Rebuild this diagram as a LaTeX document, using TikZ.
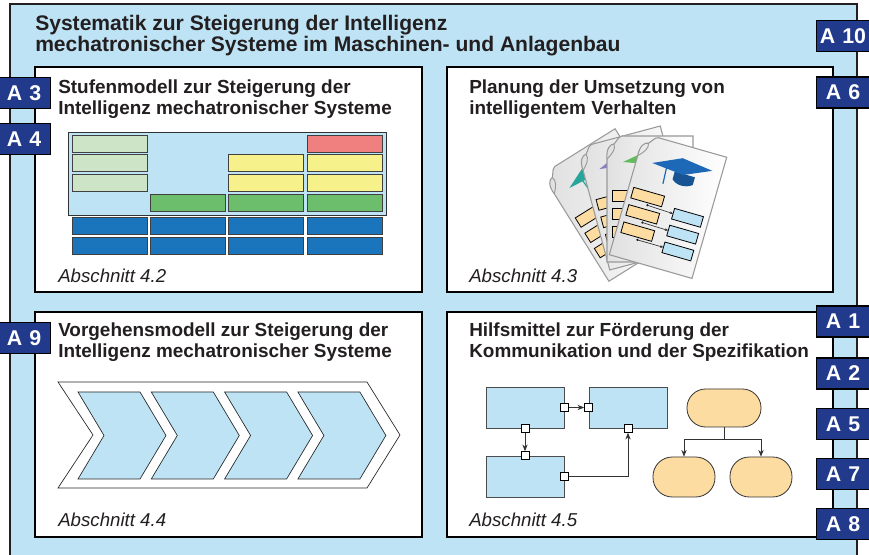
\documentclass[tikz,border=0pt]{standalone}
\usepackage{fontspec}
\setmainfont{Liberation Sans}
\usetikzlibrary{arrows.meta, positioning}

\definecolor{skyfill}{RGB}{190,227,245}
\definecolor{navy}{RGB}{33,58,140}
\definecolor{palegreen}{RGB}{205,229,198}
\definecolor{midgreen}{RGB}{108,190,108}
\definecolor{lemon}{RGB}{246,241,138}
\definecolor{salmon}{RGB}{240,128,128}
\definecolor{stepblue}{RGB}{27,117,188}
\definecolor{peach}{RGB}{253,220,162}
\definecolor{inkgray}{RGB}{35,31,32}
\definecolor{capteal}{RGB}{38,166,154}
\definecolor{cappurple}{RGB}{140,122,204}
\definecolor{capgreen}{RGB}{96,188,92}
\definecolor{capblue}{RGB}{30,104,184}

\begin{document}
\begin{tikzpicture}[x=0.75pt, y=-0.75pt,
      outerframe/.style={fill=skyfill, draw=inkgray, line width=0.9pt},
      panelbox/.style={fill=white, draw=black, line width=1.4pt},
      tagbox/.style={rectangle, fill=navy, draw=black, line width=1.1pt, text=white, minimum width=40pt, minimum height=23.25pt, inner sep=0pt, font=\fontsize{16}{16}\selectfont\bfseries},
      headline/.style={anchor=north west, inner sep=0pt, align=left, text=inkgray, font=\fontsize{14.2}{15.5}\selectfont\bfseries},
      sectext/.style={anchor=base west, inner sep=0pt, text=inkgray, font=\fontsize{14}{16}\selectfont\itshape},
      levelbar/.style={draw=black!75, line width=0.6pt},
      chevline/.style={draw=black!85, line width=0.5pt},
      blockbox/.style={rectangle, fill=skyfill, draw=black!70, line width=0.6pt, minimum width=58.5pt, minimum height=30.75pt, inner sep=0pt},
      portbox/.style={rectangle, fill=white, draw=black, line width=0.6pt, minimum size=6pt, inner sep=0pt},
      ovalbox/.style={rectangle, fill=peach, draw=black!80, line width=0.6pt, inner sep=0pt},
      arr/.style={-{Stealth[length=5pt, width=4pt]}, line width=0.6pt, draw=black!80},
      pagesheet/.style={draw=black!40, line width=0.8pt, left color=black!12, right color=white},
      sheetbox/.style={draw=black, line width=0.6pt},
      sheetarr/.style={-{Stealth[length=2.5pt, width=2pt]}, line width=0.5pt, draw=black!80}]
  \clip (0,0) rectangle (869,555);
  \fill[white] (0,0) rectangle (869,555);
  % outer frame runs off the lower edge
  \path[outerframe] (10,4) rectangle (857,575);
  \node[headline, font=\fontsize{15.8}{14}\selectfont\bfseries] (title) at (35,15)
    {Systematik zur Steigerung der Intelligenz\\mechatronischer Systeme im Maschinen- und Anlagenbau};

  % the four sections
  \path[panelbox] (35,67) rectangle (422,292);
  \path[panelbox] (447,67) rectangle (833,292);
  \path[panelbox] (35,312) rectangle (422,537);
  \path[panelbox] (447,312) rectangle (833,537);
  \node[headline] (h42) at (58,80) {Stufenmodell zur Steigerung der\\Intelligenz mechatronischer Systeme};
  \node[headline] (h43) at (469,80) {Planung der Umsetzung von\\intelligentem Verhalten};
  \node[headline] (h44) at (58,323) {Vorgehensmodell zur Steigerung der\\Intelligenz mechatronischer Systeme};
  \node[headline] (h45) at (469,323) {Hilfsmittel zur F\"orderung der\\Kommunikation und der Spezifikation};
  \node[sectext] (s42) at (58,283) {Abschnitt 4.2};
  \node[sectext] (s43) at (469,283) {Abschnitt 4.3};
  \node[sectext] (s44) at (58,527) {Abschnitt 4.4};
  \node[sectext] (s45) at (469,527) {Abschnitt 4.5};

  % level model
  \path[levelbar, fill=skyfill, draw=black!80] (68,132) rectangle (386,215);
  \foreach \c/\r/\col in {0/0/palegreen, 3/0/salmon, 0/1/palegreen, 2/1/lemon, 3/1/lemon,
      0/2/palegreen, 2/2/lemon, 3/2/lemon, 1/3/midgreen, 2/3/midgreen, 3/3/midgreen}
    \path[levelbar, fill=\col] ({72+78.4*\c},{135+19.8*\r}) rectangle ++(75,17);
  \foreach \c in {0,...,3}
    \foreach \r in {0,1}
      \path[levelbar, fill=stepblue] ({72+78.4*\c},{217+20*\r}) rectangle ++(75,17);

  % process chevrons
  \path[chevline, fill=white] (58,382) -- (367,382) -- (400,435) -- (367,488) -- (58,488) -- (93,435) -- cycle;
  \foreach \i in {0,...,3}
    \path[chevline, fill=skyfill, shift={({73.3*\i},0)}]
      (78,392) -- (140,392) -- (166,435.5) -- (140,479) -- (78,479) -- (104,435.5) -- cycle;

  % stack of planning sheets
  \foreach \px/\py/\ang/\capcol in {612/205/32/capteal, 635/198/15/cappurple, 650/199/0/capgreen, 668/206/-16/capblue}{
    \begin{scope}[shift={(\px,\py)}, rotate=\ang]
      \path[pagesheet] (-28,-63) -- (43,-63) -- (43,63) -- (-43,63) -- (-43,-40)
        .. controls (-44,-50) and (-40,-55) .. (-36,-55) .. controls (-33,-58) and (-32,-62) .. (-28,-63) -- cycle;
      \draw[black!40, line width=0.7pt] (-36,-55) .. controls (-34,-50) and (-38,-45) .. (-43,-40);
      \fill[\capcol!80!black] (-3,-35) -- (18,-35) -- (18,-27) .. controls (12,-22) and (2,-22) .. (-3,-27) -- cycle;
      \fill[\capcol] (-27,-37) -- (1,-50) -- (33,-46) -- (6,-34) -- cycle;
      \draw[\capcol, line width=0.9pt] (1,-42) -- (-12,-37) -- (-11,-20);
      \foreach \k in {0,1,2}{
        \path[sheetbox, fill=peach] (-38,{-8.5+18*\k}) rectangle ++(32,11);
        \path[sheetbox, fill=skyfill] (7,{0.5+17.5*\k}) rectangle ++(30,11);
        \fill[black] (-20,{5+18*\k}) circle (0.9pt);
        \draw[sheetarr] (-20,{5+18*\k}) -- (7,{6+17.5*\k});
      }
    \end{scope}
  }

  % block diagram with ports
  \node[blockbox] (blkA) at (525,407.5) {};
  \node[blockbox] (blkB) at (628,407.5) {};
  \node[blockbox] (blkC) at (525,476.5) {};
  \node[portbox] (pAr) at (blkA.east) {};
  \node[portbox] (pBl) at (blkB.west) {};
  \node[portbox] (pAb) at (blkA.south) {};
  \node[portbox] (pCt) at (blkC.north) {};
  \node[portbox] (pCr) at (blkC.east) {};
  \node[portbox] (pBb) at (blkB.south) {};
  \draw[arr] (pAr) -- (pBl);
  \draw[arr] (pAb) -- (pCt);
  \draw[arr] (pCr) -| (pBb);

  % tree of rounded boxes
  \node[ovalbox, minimum width=55.5pt, minimum height=28.5pt, rounded corners=14pt] (goal) at (724,408) {};
  \node[ovalbox, minimum width=46.5pt, minimum height=30pt, rounded corners=14.5pt] (subL) at (684,477) {};
  \node[ovalbox, minimum width=46.5pt, minimum height=30pt, rounded corners=14.5pt] (subR) at (761,477) {};
  \draw[line width=0.6pt, draw=black!80] (goal.south) -- ++(0,12) coordinate (fork);
  \draw[arr] (fork) -| (subL.north);
  \draw[arr] (fork) -| (subR.north);

  % requirement tags
  \node[tagbox] (a3) at (24,93) {A\,\,3};
  \node[tagbox] (a4) at (24,139) {A\,\,4};
  \node[tagbox] (a9) at (24,338) {A\,\,9};
  \node[tagbox] (a10) at (843,36) {A\,\,10};
  \node[tagbox] (a6) at (843,92.5) {A\,\,6};
  \foreach \n/\yy in {1/321.5, 2/373.5, 5/424, 7/474, 8/524}
    \node[tagbox] (a\n) at (843,\yy) {A\,\,\n};
\end{tikzpicture}
\end{document}
